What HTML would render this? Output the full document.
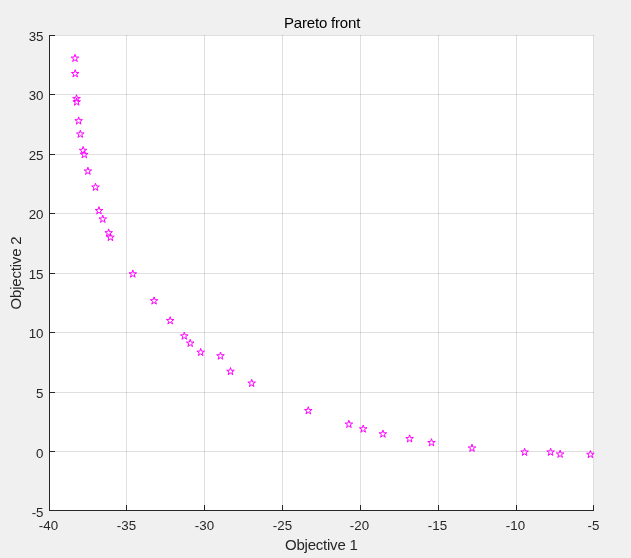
<!DOCTYPE html><html><head><meta charset="utf-8"><title>Pareto front</title><style>html,body{margin:0;padding:0;background:#f0f0f0}svg{display:block}text{font-family:"Liberation Sans",Arial,Helvetica,sans-serif;fill:#262626}</style></head><body>
<svg width="631" height="558" viewBox="0 0 631 558">
<rect width="631" height="558" fill="#f0f0f0"/>
<rect x="49" y="35" width="545" height="476" fill="#ffffff"/>
<g shape-rendering="crispEdges" stroke="#262626" stroke-opacity="0.15" stroke-width="1">
<line x1="126.5" y1="35" x2="126.5" y2="511"/>
<line x1="204.5" y1="35" x2="204.5" y2="511"/>
<line x1="282.5" y1="35" x2="282.5" y2="511"/>
<line x1="360.5" y1="35" x2="360.5" y2="511"/>
<line x1="438.5" y1="35" x2="438.5" y2="511"/>
<line x1="516.5" y1="35" x2="516.5" y2="511"/>
<line x1="593.5" y1="35" x2="593.5" y2="511"/>
<line x1="49" y1="35.5" x2="594" y2="35.5"/>
<line x1="49" y1="94.5" x2="594" y2="94.5"/>
<line x1="49" y1="154.5" x2="594" y2="154.5"/>
<line x1="49" y1="213.5" x2="594" y2="213.5"/>
<line x1="49" y1="273.5" x2="594" y2="273.5"/>
<line x1="49" y1="332.5" x2="594" y2="332.5"/>
<line x1="49" y1="392.5" x2="594" y2="392.5"/>
<line x1="49" y1="451.5" x2="594" y2="451.5"/>
</g>
<g shape-rendering="crispEdges" stroke="#262626" stroke-width="1">
<line x1="49.5" y1="35" x2="49.5" y2="511"/>
<line x1="49" y1="510.5" x2="594" y2="510.5"/>
<line x1="126.5" y1="505" x2="126.5" y2="511"/>
<line x1="204.5" y1="505" x2="204.5" y2="511"/>
<line x1="282.5" y1="505" x2="282.5" y2="511"/>
<line x1="360.5" y1="505" x2="360.5" y2="511"/>
<line x1="438.5" y1="505" x2="438.5" y2="511"/>
<line x1="516.5" y1="505" x2="516.5" y2="511"/>
<line x1="593.5" y1="505" x2="593.5" y2="511"/>
<line x1="49" y1="35.5" x2="55" y2="35.5"/>
<line x1="49" y1="94.5" x2="55" y2="94.5"/>
<line x1="49" y1="154.5" x2="55" y2="154.5"/>
<line x1="49" y1="213.5" x2="55" y2="213.5"/>
<line x1="49" y1="273.5" x2="55" y2="273.5"/>
<line x1="49" y1="332.5" x2="55" y2="332.5"/>
<line x1="49" y1="392.5" x2="55" y2="392.5"/>
<line x1="49" y1="451.5" x2="55" y2="451.5"/>
</g>
<g font-size="13.33" text-anchor="middle">
<text x="48.5" y="530">-40</text>
<text x="126.5" y="530">-35</text>
<text x="204.5" y="530">-30</text>
<text x="282.5" y="530">-25</text>
<text x="359.5" y="530">-20</text>
<text x="437.5" y="530">-15</text>
<text x="515.5" y="530">-10</text>
<text x="593.5" y="530">-5</text>
</g>
<g font-size="13.33" text-anchor="end">
<text x="43.5" y="41.0">35</text>
<text x="43.5" y="100.0">30</text>
<text x="43.5" y="160.0">25</text>
<text x="43.5" y="219.0">20</text>
<text x="43.5" y="279.0">15</text>
<text x="43.5" y="338.0">10</text>
<text x="43.5" y="398.0">5</text>
<text x="43.5" y="458.0">0</text>
<text x="43.5" y="517.0">-5</text>
</g>
<text x="322.1" y="28" font-size="15" letter-spacing="-0.19" text-anchor="middle" style="fill:#000">Pareto front</text>
<text x="321.3" y="549.8" font-size="15" letter-spacing="-0.23" text-anchor="middle">Objective 1</text>
<text transform="translate(21.3 273) rotate(-90)" font-size="15" letter-spacing="-0.2" text-anchor="middle">Objective 2</text>
<g fill="none" stroke="#ff00ff" stroke-width="1" stroke-linejoin="miter">
<path d="M74.98 54.30L75.88 57.06L78.78 57.06L76.43 58.77L77.33 61.54L74.98 59.83L72.63 61.54L73.53 58.77L71.18 57.06L74.08 57.06Z"/>
<path d="M75.20 69.70L76.10 72.46L79.00 72.46L76.65 74.17L77.55 76.94L75.20 75.23L72.85 76.94L73.75 74.17L71.40 72.46L74.30 72.46Z"/>
<path d="M76.50 94.70L77.40 97.46L80.30 97.46L77.95 99.17L78.85 101.94L76.50 100.23L74.15 101.94L75.05 99.17L72.70 97.46L75.60 97.46Z"/>
<path d="M76.70 98.00L77.60 100.76L80.50 100.76L78.15 102.47L79.05 105.24L76.70 103.53L74.35 105.24L75.25 102.47L72.90 100.76L75.80 100.76Z"/>
<path d="M78.65 116.90L79.55 119.66L82.45 119.66L80.10 121.37L81.00 124.14L78.65 122.43L76.30 124.14L77.20 121.37L74.85 119.66L77.75 119.66Z"/>
<path d="M80.30 130.20L81.20 132.96L84.10 132.96L81.75 134.67L82.65 137.44L80.30 135.73L77.95 137.44L78.85 134.67L76.50 132.96L79.40 132.96Z"/>
<path d="M83.10 146.50L84.00 149.26L86.90 149.26L84.55 150.97L85.45 153.74L83.10 152.03L80.75 153.74L81.65 150.97L79.30 149.26L82.20 149.26Z"/>
<path d="M84.30 150.60L85.20 153.36L88.10 153.36L85.75 155.07L86.65 157.84L84.30 156.13L81.95 157.84L82.85 155.07L80.50 153.36L83.40 153.36Z"/>
<path d="M87.90 167.20L88.80 169.96L91.70 169.96L89.35 171.67L90.25 174.44L87.90 172.73L85.55 174.44L86.45 171.67L84.10 169.96L87.00 169.96Z"/>
<path d="M95.50 183.20L96.40 185.96L99.30 185.96L96.95 187.67L97.85 190.44L95.50 188.73L93.15 190.44L94.05 187.67L91.70 185.96L94.60 185.96Z"/>
<path d="M99.00 206.70L99.90 209.46L102.80 209.46L100.45 211.17L101.35 213.94L99.00 212.23L96.65 213.94L97.55 211.17L95.20 209.46L98.10 209.46Z"/>
<path d="M102.80 215.20L103.70 217.96L106.60 217.96L104.25 219.67L105.15 222.44L102.80 220.73L100.45 222.44L101.35 219.67L99.00 217.96L101.90 217.96Z"/>
<path d="M108.70 228.90L109.60 231.66L112.50 231.66L110.15 233.37L111.05 236.14L108.70 234.43L106.35 236.14L107.25 233.37L104.90 231.66L107.80 231.66Z"/>
<path d="M110.40 233.40L111.30 236.16L114.20 236.16L111.85 237.87L112.75 240.64L110.40 238.93L108.05 240.64L108.95 237.87L106.60 236.16L109.50 236.16Z"/>
<path d="M132.80 270.00L133.70 272.76L136.60 272.76L134.25 274.47L135.15 277.24L132.80 275.53L130.45 277.24L131.35 274.47L129.00 272.76L131.90 272.76Z"/>
<path d="M154.10 296.90L155.00 299.66L157.90 299.66L155.55 301.37L156.45 304.14L154.10 302.43L151.75 304.14L152.65 301.37L150.30 299.66L153.20 299.66Z"/>
<path d="M170.20 316.70L171.10 319.46L174.00 319.46L171.65 321.17L172.55 323.94L170.20 322.23L167.85 323.94L168.75 321.17L166.40 319.46L169.30 319.46Z"/>
<path d="M184.30 332.10L185.20 334.86L188.10 334.86L185.75 336.57L186.65 339.34L184.30 337.63L181.95 339.34L182.85 336.57L180.50 334.86L183.40 334.86Z"/>
<path d="M190.20 339.30L191.10 342.06L194.00 342.06L191.65 343.77L192.55 346.54L190.20 344.83L187.85 346.54L188.75 343.77L186.40 342.06L189.30 342.06Z"/>
<path d="M200.70 348.40L201.60 351.16L204.50 351.16L202.15 352.87L203.05 355.64L200.70 353.93L198.35 355.64L199.25 352.87L196.90 351.16L199.80 351.16Z"/>
<path d="M220.50 352.00L221.40 354.76L224.30 354.76L221.95 356.47L222.85 359.24L220.50 357.53L218.15 359.24L219.05 356.47L216.70 354.76L219.60 354.76Z"/>
<path d="M230.50 367.50L231.40 370.26L234.30 370.26L231.95 371.97L232.85 374.74L230.50 373.03L228.15 374.74L229.05 371.97L226.70 370.26L229.60 370.26Z"/>
<path d="M251.70 379.30L252.60 382.06L255.50 382.06L253.15 383.77L254.05 386.54L251.70 384.83L249.35 386.54L250.25 383.77L247.90 382.06L250.80 382.06Z"/>
<path d="M308.30 406.70L309.20 409.46L312.10 409.46L309.75 411.17L310.65 413.94L308.30 412.23L305.95 413.94L306.85 411.17L304.50 409.46L307.40 409.46Z"/>
<path d="M348.90 420.30L349.80 423.06L352.70 423.06L350.35 424.77L351.25 427.54L348.90 425.83L346.55 427.54L347.45 424.77L345.10 423.06L348.00 423.06Z"/>
<path d="M363.20 425.00L364.10 427.76L367.00 427.76L364.65 429.47L365.55 432.24L363.20 430.53L360.85 432.24L361.75 429.47L359.40 427.76L362.30 427.76Z"/>
<path d="M382.90 430.00L383.80 432.76L386.70 432.76L384.35 434.47L385.25 437.24L382.90 435.53L380.55 437.24L381.45 434.47L379.10 432.76L382.00 432.76Z"/>
<path d="M409.60 434.80L410.50 437.56L413.40 437.56L411.05 439.27L411.95 442.04L409.60 440.33L407.25 442.04L408.15 439.27L405.80 437.56L408.70 437.56Z"/>
<path d="M431.50 438.70L432.40 441.46L435.30 441.46L432.95 443.17L433.85 445.94L431.50 444.23L429.15 445.94L430.05 443.17L427.70 441.46L430.60 441.46Z"/>
<path d="M472.00 444.20L472.90 446.96L475.80 446.96L473.45 448.67L474.35 451.44L472.00 449.73L469.65 451.44L470.55 448.67L468.20 446.96L471.10 446.96Z"/>
<path d="M524.60 448.20L525.50 450.96L528.40 450.96L526.05 452.67L526.95 455.44L524.60 453.73L522.25 455.44L523.15 452.67L520.80 450.96L523.70 450.96Z"/>
<path d="M550.60 448.20L551.50 450.96L554.40 450.96L552.05 452.67L552.95 455.44L550.60 453.73L548.25 455.44L549.15 452.67L546.80 450.96L549.70 450.96Z"/>
<path d="M560.10 450.20L561.00 452.96L563.90 452.96L561.55 454.67L562.45 457.44L560.10 455.73L557.75 457.44L558.65 454.67L556.30 452.96L559.20 452.96Z"/>
<path d="M590.40 450.50L591.30 453.26L594.20 453.26L591.85 454.97L592.75 457.74L590.40 456.03L588.05 457.74L588.95 454.97L586.60 453.26L589.50 453.26Z"/>
</g>
</svg></body></html>
